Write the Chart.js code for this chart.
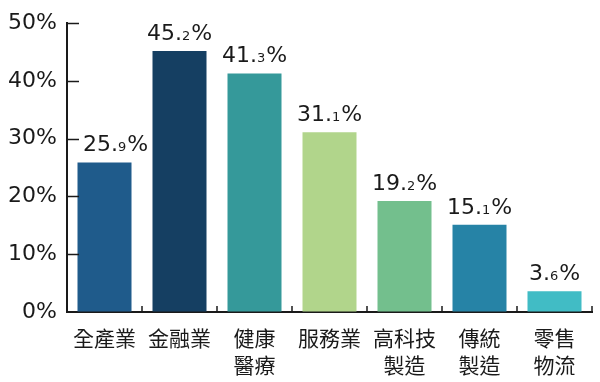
<!DOCTYPE html>
<html><head><meta charset="utf-8">
<script src="https://cdn.jsdelivr.net/npm/chart.js@4"></script>
<style>html,body{margin:0;padding:0;background:#fff}#wrap{width:600px;height:382px;position:relative}</style>
</head><body><div id="wrap"><canvas id="c"></canvas></div>
<script>
const categories = [['全產業'], ['金融業'], ['健康', '醫療'], ['服務業'], ['高科技', '製造'], ['傳統', '製造'], ['零售', '物流']];
const values = [25.9, 45.2, 41.3, 31.1, 19.2, 15.1, 3.6];
const barColors = ['#1f5b8b', '#153f62', '#35999a', '#b1d58b', '#73bf8d', '#2683a6', '#41bcc5'];
const yTickValues = [0, 10, 20, 30, 40, 50];

const LATIN = "'DejaVu Sans', sans-serif";
const CJK = "'Noto Sans CJK TC', sans-serif";
const INK = '#1a1a1a';

const tickPlugin = {
  id: 'innerTicksAndLabels',
  afterDatasetsDraw(chart) {
    const ctx = chart.ctx;
    const xs = chart.scales.x, ys = chart.scales.y;
    ctx.save();
    ctx.strokeStyle = INK;
    ctx.lineWidth = 1.5;
    const yTickLen = 12;
    // y ticks pointing inward
    yTickValues.forEach(v => {
      if (v === 0) return;
      const y = Math.round(ys.getPixelForValue(v)) + 0.5;
      ctx.beginPath();
      ctx.moveTo(xs.left, y);
      ctx.lineTo(xs.left + yTickLen, y);
      ctx.stroke();
    });
    // x ticks at category boundaries pointing up
    for (let i = 0; i <= categories.length; i++) {
      const x = Math.round(xs.getPixelForValue(i - 0.5));
      const y0 = ys.getPixelForValue(0);
      ctx.beginPath();
      ctx.moveTo(x, y0);
      ctx.lineTo(x, y0 - 6);
      ctx.stroke();
    }
    // data labels with small decimal digit
    const meta = chart.getDatasetMeta(0);
    const big = '22px ' + LATIN, small = '13px ' + LATIN;
    ctx.fillStyle = INK;
    ctx.textBaseline = 'alphabetic';
    ctx.textAlign = 'left';
    meta.data.forEach((bar, i) => {
      const parts = values[i].toFixed(1).split('.');
      const p1 = parts[0] + '.', p2 = parts[1], p3 = '%';
      ctx.font = big; const w1 = ctx.measureText(p1).width, w3 = ctx.measureText(p3).width;
      ctx.font = small; const w2 = ctx.measureText(p2).width + 1;
      const total = w1 + w2 + w3;
      let x = bar.x - total / 2;
      // keep clear of the inward y-axis tick marks
      x = Math.max(x, xs.left + yTickLen + 4);
      const y = bar.y - 11;
      ctx.font = big; ctx.fillText(p1, x, y); x += w1;
      ctx.font = small; ctx.fillText(p2, x, y); x += w2;
      ctx.font = big; ctx.fillText(p3, x, y);
    });
    ctx.restore();
  }
};

new Chart(document.getElementById('c'), {
  type: 'bar',
  data: {
    labels: categories,
    datasets: [{
      data: values,
      backgroundColor: barColors,
      borderWidth: 0,
      barPercentage: 0.72,
      categoryPercentage: 1
    }]
  },
  options: {
    responsive: true,
    maintainAspectRatio: false,
    animation: false,
    layout: { padding: { top: 14, right: 8, left: 0, bottom: 0 } },
    plugins: { legend: { display: false }, tooltip: { enabled: false } },
    scales: {
      x: {
        grid: { display: true, offset: true, drawOnChartArea: false, drawTicks: false, color: 'rgba(0,0,0,0)' },
        border: { display: true, color: INK, width: 2 },
        ticks: { font: { family: CJK, size: 21, lineHeight: 1.3 }, color: INK, padding: 12, maxRotation: 0, autoSkip: false },
        afterFit(s) { s.height = 70; }
      },
      y: {
        min: 0, max: 50,
        afterBuildTicks(s) { s.ticks = yTickValues.map(v => ({ value: v })); },
        grid: { drawOnChartArea: false, drawTicks: false, color: 'rgba(0,0,0,0)' },
        border: { display: true, color: INK, width: 2 },
        ticks: { font: { family: LATIN, size: 22 }, color: INK, padding: 10, callback: v => v + '%' },
        afterFit(s) { s.width = 67; }
      }
    }
  },
  plugins: [tickPlugin]
});
</script>
</body></html>
